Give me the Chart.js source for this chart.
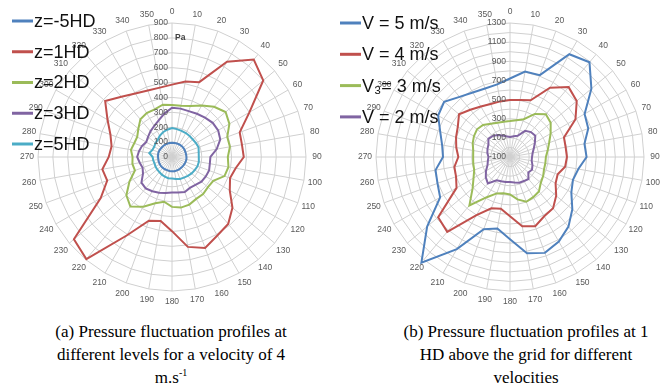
<!DOCTYPE html>
<html><head><meta charset="utf-8">
<script src="https://cdn.jsdelivr.net/npm/chart.js@4"></script>
<style>
body{margin:0;width:671px;height:392px;background:#fff;overflow:hidden;position:relative;font-family:"Liberation Sans",Arial,sans-serif}
canvas{position:absolute;left:0;top:0}
.cap{position:absolute;font-family:"Liberation Serif","Times New Roman",Times,"Nimbus Roman","Nimbus Roman No9 L","FreeSerif","Noto Serif","DejaVu Serif",Georgia,serif;font-size:17px;line-height:23px;text-align:center;color:#000;white-space:nowrap}
.cap sup{font-size:10px;vertical-align:7px;line-height:0}
</style></head><body>
<canvas id="c1" width="671" height="320"></canvas>
<canvas id="c2" width="671" height="320"></canvas>
<div class="cap" style="left:0;width:342px;top:320px">(a) Pressure fluctuation profiles at<br>different levels for a velocity of 4<br>m.s<sup>-1</sup></div>
<div class="cap" style="left:356px;width:340px;top:320px">(b) Pressure fluctuation profiles at 1<br>HD above the grid for different<br>velocities</div>
<script>
// ---- data ----
const angles = ['0','10','20','30','40','50','60','70','80','90','100','110','120','130','140','150','160','170','180','190','200','210','220','230','240','250','260','270','280','290','300','310','320','330','340','350'];

// (a) pressure fluctuation (Pa) at different levels, V = 4 m/s
const levelNames = ['z=-5HD','z=1HD','z=2HD','z=3HD','z=5HD'];
const zMinus5HD = [95,96,97,97,98,98,97,96,96,97,98,97,96,95,95,96,96,97,96,95,94,95,96,96,95,94,93,94,95,96,95,94,94,95,95,95];
const z1HD = [486,515,535,739,854,800,600,484,477,482,434,415,448,530,587,609,650,613,498,437,455,609,895,860,553,463,475,425,412,440,500,586,529,493,475,473];
const z2HD = [350,350,365,400,440,470,445,395,395,375,385,375,320,315,325,325,340,345,335,305,330,385,435,400,330,265,270,265,280,270,270,295,330,340,340,357];
const z3HD = [331,330,328,335,345,357,358,345,305,258,258,265,262,258,245,240,250,242,238,245,255,265,275,268,225,210,220,234,225,215,200,210,225,240,262,296];
const z5HD = [195,190,187,186,184,183,186,190,182,180,183,182,176,172,165,160,157,150,145,145,140,137,132,130,128,125,128,130,155,140,138,145,150,165,177,186];
const ticksA = [0,100,200,300,400,500,600,700,800,900];

// (b) pressure fluctuation at 1 HD for different velocities
const velNames = ['V = 5 m/s','V = 4 m/s','V\u2083= 3 m/s','V = 2 m/s'];
const v5 = [720,806,810,1140,1192,1010,800,770,690,700,625,600,640,750,850,920,966,922,760,658,702,1011,1340,1030,743,706,690,600,620,676,767,798,720,678,661,670];
const v4 = [495,505,530,736,853,810,690,500,490,495,485,430,450,530,600,615,670,635,520,450,470,600,920,880,545,500,490,440,470,500,530,595,545,510,490,490];
const v3 = [275,290,320,420,482,455,390,335,300,275,275,278,300,320,370,385,398,350,292,285,305,385,560,410,340,298,290,285,290,315,335,350,338,300,280,275];
const v2 = [110,120,135,215,240,245,200,165,140,130,130,150,165,150,200,190,185,170,160,165,170,180,260,230,190,150,135,125,140,150,160,195,185,165,140,120];
const ticksB = [-100,100,300,500,700,900,1100,1300];

// ---- drawing ----
const COLORS5 = ['#4f81bd','#c0504d','#9bbb59','#8064a2','#4bacc6'];
const COLORS4 = ['#4f81bd','#c0504d','#9bbb59','#8064a2'];
const GRID = '#d0d0d0';
const LABEL = '#595959';

function deco(cfg){
  return {
    id:'deco',
    afterDraw(chart){
      const ctx = chart.ctx, s = chart.scales.r;
      ctx.save();
      ctx.font = '8.5px "Liberation Sans", Arial, sans-serif';
      ctx.fillStyle = LABEL; ctx.textAlign = 'center'; ctx.textBaseline = 'middle';
      chart.data.labels.forEach((lab,i)=>{
        const p = s.getPointPosition(i, s.drawingArea + 11);
        ctx.fillText(lab, p.x, p.y);
      });
      ctx.textAlign = 'right';
      cfg.ticks.forEach(v=>{
        const d = s.getDistanceFromCenterForValue(v);
        ctx.fillText(String(v), s.xCenter - 4, s.yCenter - d);
      });
      if (cfg.unit){
        ctx.font = 'bold 8.5px "Liberation Sans", Arial, sans-serif';
        ctx.textAlign = 'left'; ctx.fillStyle = '#404040';
        ctx.fillText(cfg.unit, s.xCenter + 3, s.yCenter - s.getDistanceFromCenterForValue(cfg.unitAt));
      }
      ctx.font = '18px "Liberation Sans", Arial, sans-serif';
      ctx.textAlign = 'left';
      chart.data.datasets.forEach((ds,i)=>{
        const y = cfg.legY + i*cfg.legDy;
        ctx.strokeStyle = ds.borderColor; ctx.lineWidth = 3;
        ctx.beginPath(); ctx.moveTo(cfg.legX, y); ctx.lineTo(cfg.legX + 21, y); ctx.stroke();
        ctx.fillStyle = '#111';
        ctx.fillText(ds.label, cfg.legX + 22, y + 1);
      });
      ctx.restore();
    }
  };
}

function makeRadar(id, names, series, colors, min, max, pad, cfg){
  new Chart(document.getElementById(id), {
    type:'radar',
    data:{
      labels: angles,
      datasets: series.map((d,i)=>({label:names[i], data:d, borderColor:colors[i], backgroundColor:colors[i],
        borderWidth:2, pointRadius:0, pointHoverRadius:0, fill:false, tension:0}))
    },
    options:{
      responsive:false, animation:false, events:[],
      layout:{padding:pad},
      plugins:{legend:{display:false}, tooltip:{enabled:false}},
      scales:{ r:{ min:min, max:max, startAngle:0,
        ticks:{display:false, stepSize:100},
        pointLabels:{display:false},
        grid:{color:GRID, lineWidth:1},
        angleLines:{color:GRID, lineWidth:1} } }
    },
    plugins:[deco(cfg)]
  });
}

makeRadar('c1', levelNames, [zMinus5HD, z1HD, z2HD, z3HD, z5HD], COLORS5, 0, 900,
  {left:38, top:23, right:365, bottom:29},
  {ticks:ticksA, unit:'Pa', unitAt:800, legX:12, legY:21, legDy:30.75});
makeRadar('c2', velNames, [v5, v4, v3, v2], COLORS4, -100, 1300,
  {left:376, top:23, right:27, bottom:29},
  {ticks:ticksB, legX:340, legY:23, legDy:31.3});
</script>
</body></html>
